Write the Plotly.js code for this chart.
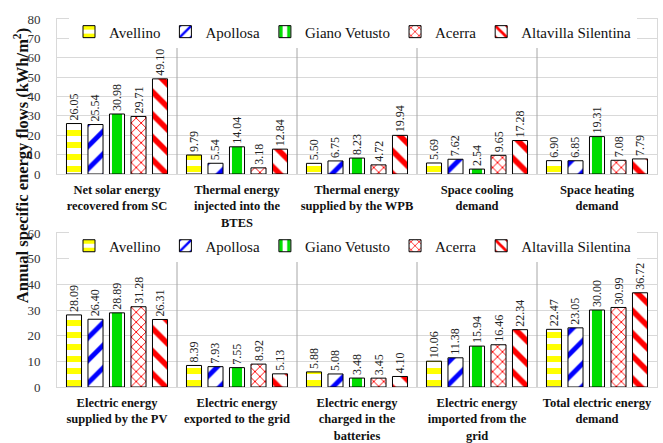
<!DOCTYPE html>
<html>
<head>
<meta charset="utf-8">
<script src="https://cdn.plot.ly/plotly-3.0.1.min.js"></script>
<style>html,body{margin:0;padding:0;background:#fff;}#chart{width:663px;height:443px;}</style>
</head>
<body>
<div id="chart"></div>
<script>
// ---- data ----
const seriesNames = ["Avellino", "Apollosa", "Giano Vetusto", "Acerra", "Altavilla Silentina"];

const topCategories = [
  "Net solar energy<br>recovered from SC",
  "Thermal energy<br>injected into the<br>BTES",
  "Thermal energy<br>supplied by the WPB",
  "Space cooling<br>demand",
  "Space heating<br>demand"
];
const bottomCategories = [
  "Electric energy<br>supplied by the PV",
  "Electric energy<br>exported to the grid",
  "Electric energy<br>charged in the<br>batteries",
  "Electric energy<br>imported from the<br>grid",
  "Total electric energy<br>demand"
];

const topAvellino  = [26.05, 9.79, 5.50, 5.69, 6.90];
const topApollosa  = [25.54, 5.54, 6.75, 7.62, 6.85];
const topGiano     = [30.98, 14.04, 8.23, 2.54, 19.31];
const topAcerra    = [29.71, 3.18, 4.72, 9.65, 7.08];
const topAltavilla = [49.10, 12.84, 19.94, 17.28, 7.79];

const botAvellino  = [28.09, 8.39, 5.88, 10.06, 22.47];
const botApollosa  = [26.40, 7.93, 5.08, 11.38, 23.05];
const botGiano     = [28.89, 7.55, 3.48, 15.94, 30.00];
const botAcerra    = [31.28, 8.92, 3.45, 16.46, 30.99];
const botAltavilla = [26.31, 5.13, 4.10, 22.34, 36.72];

const topYTicks = [0, 10, 20, 30, 40, 50, 60, 70, 80];
const botYTicks = [0, 10, 20, 30, 40, 50, 60];

// ---- styles ----
const serif = "Liberation Serif";
const markers = [
  {color: "#ffffff", line: {color: "#000", width: 1}, pattern: {shape: "-", fgcolor: "#ffff00", bgcolor: "#ffffff", fgopacity: 1, fillmode: "overlay", size: 12, solidity: 0.5}},
  {color: "#ffffff", line: {color: "#000", width: 1}, pattern: {shape: "/", fgcolor: "#0000ff", bgcolor: "#ffffff", fgopacity: 1, fillmode: "overlay", size: 16, solidity: 0.3}},
  {color: "#ffffff", line: {color: "#000", width: 1}, pattern: {shape: "|", fgcolor: "#00dd00", bgcolor: "#ffffff", fgopacity: 1, fillmode: "overlay", size: 24, solidity: 0.42}},
  {color: "#ffffff", line: {color: "#000", width: 1}, pattern: {shape: "x", fgcolor: "#ff0000", bgcolor: "#ffffff", fgopacity: 1, fillmode: "overlay", size: 7, solidity: 0.25}},
  {color: "#ffffff", line: {color: "#000", width: 1}, pattern: {shape: "\\", fgcolor: "#ff0000", bgcolor: "#ffffff", fgopacity: 1, fillmode: "overlay", size: 16, solidity: 0.35}}
];

function makeTrace(name, cats, vals, i, xa, ya, leg) {
  return {
    type: "bar", name: name, x: cats, y: vals, xaxis: xa, yaxis: ya,
    legend: leg, marker: markers[i],
    text: vals.map(v => v.toFixed(2)), textposition: "outside", textangle: -90,
    constraintext: "none", cliponaxis: false,
    textfont: {family: serif, size: 12, color: "#222"},
    hoverinfo: "skip"
  };
}

const topVals = [topAvellino, topApollosa, topGiano, topAcerra, topAltavilla];
const botVals = [botAvellino, botApollosa, botGiano, botAcerra, botAltavilla];
const data = [];
seriesNames.forEach((n, i) => data.push(makeTrace(n, topCategories, topVals[i], i, "x", "y", "legend")));
seriesNames.forEach((n, i) => data.push(makeTrace(n, bottomCategories, botVals[i], i, "x2", "y2", "legend2")));

const gridC = "#d9d9d9";
const xaxisBase = {
  type: "category", showgrid: false, showline: true, linecolor: gridC, linewidth: 1, mirror: true,
  ticks: "", tickfont: {family: serif, size: 12.5, color: "#111", weight: "bold"},
  ticklabelstandoff: 4, fixedrange: true
};
const yaxisBase = {
  showgrid: true, gridcolor: gridC, gridwidth: 1, showline: true, linecolor: gridC, mirror: true,
  zeroline: false, ticks: "", tickfont: {family: serif, size: 13, color: "#333"},
  ticklabelstandoff: 13, fixedrange: true
};

function sepShapes(xref, yref, top) {
  return [0.5, 1.5, 2.5, 3.5].map(x => ({
    type: "line", xref: xref, yref: yref, x0: x, x1: x, y0: 0, y1: top,
    line: {color: "#a6a6a6", width: 1}, layer: "above"
  }));
}

const legendBase = {
  orientation: "h", xanchor: "left", yanchor: "middle", bgcolor: "#ffffff",
  font: {family: serif, size: 15, color: "#111"}, itemwidth: 30, tracegroupgap: 0,
  itemclick: false, itemdoubleclick: false
};

const layout = {
  width: 663, height: 443,
  font: {family: serif},
  margin: {l: 57, r: 6, t: 0, b: 0},
  paper_bgcolor: "#ffffff", plot_bgcolor: "#ffffff",
  barmode: "group", bargap: 0.104, bargroupgap: 0.3,
  xaxis: Object.assign({}, xaxisBase, {domain: [0, 1], anchor: "y"}),
  yaxis: Object.assign({}, yaxisBase, {domain: [0.6072, 0.9571], range: [0, 80], tickvals: topYTicks, anchor: "x"}),
  xaxis2: Object.assign({}, xaxisBase, {domain: [0, 1], anchor: "y2"}),
  yaxis2: Object.assign({}, yaxisBase, {domain: [0.1264, 0.474], range: [0, 60], tickvals: botYTicks, anchor: "x2"}),
  legend: Object.assign({}, legendBase, {x: 0.02, y: 0.928}),
  legend2: Object.assign({}, legendBase, {x: 0.02, y: 0.4447}),
  shapes: sepShapes("x", "y", 66.5).concat(sepShapes("x2", "y2", 50)),
  annotations: [{
    xref: "paper", yref: "paper", x: -0.06, y: 0.625, xanchor: "center", yanchor: "middle",
    text: "<b>Annual specific energy flows (kWh/m<sup>2</sup>)</b>", textangle: -90, showarrow: false,
    font: {family: serif, size: 16.5, color: "#111"}
  }],
  showlegend: true
};

Plotly.newPlot("chart", data, layout, {displayModeBar: false, staticPlot: true});
</script>
</body>
</html>
